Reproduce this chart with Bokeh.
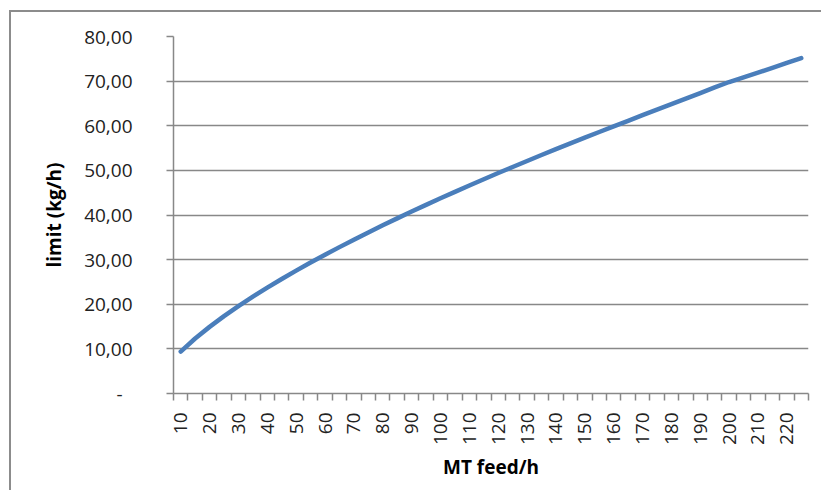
import math
from bokeh.plotting import figure
from bokeh.models import FixedTicker, Range1d
from bokeh.embed import file_html
from bokeh.resources import INLINE

# ---- data ----
feed = [10, 15, 20, 25, 30, 35, 40, 45, 50, 55, 60, 65, 70, 75, 80, 85, 90, 95,
        100, 105, 110, 115, 120, 125, 130, 135, 140, 145, 150, 155, 160, 165,
        170, 175, 180, 185, 190, 195, 200, 205, 210, 215, 220, 225]
limit = [9.40, 12.32, 14.93, 17.33, 19.57, 21.70, 23.72, 25.66, 27.53, 29.34,
         31.10, 32.80, 34.47, 36.09, 37.68, 39.24, 40.77, 42.26, 43.74, 45.18,
         46.61, 48.01, 49.40, 50.76, 52.11, 53.44, 54.76, 56.05, 57.34, 58.60,
         59.86, 61.10, 62.38, 63.62, 64.85, 66.08, 67.32, 68.58, 69.80, 70.85,
         71.90, 72.98, 74.08, 75.16]
x_label_ticks = [10, 20, 30, 40, 50, 60, 70, 80, 90, 100, 110, 120, 130, 140,
                 150, 160, 170, 180, 190, 200, 210, 220]
y_ticks = [0, 10, 20, 30, 40, 50, 60, 70, 80]
y_tick_labels = ["-\u00a0\u00a0", "10,00", "20,00", "30,00", "40,00", "50,00",
                 "60,00", "70,00", "80,00"]
x_title = "MT feed/h"
y_title = "limit (kg/h)"

GRAY = "#888888"
FONT = "Open Sans"

half = (feed[1] - feed[0]) / 2
x_bounds = [f - half for f in feed] + [feed[-1] + half]

p = figure(width=812, height=480, output_backend="svg", toolbar_location=None,
           x_range=Range1d(x_bounds[0], x_bounds[-1]),
           y_range=Range1d(y_ticks[0], y_ticks[-1]),
           min_border_left=162, min_border_right=15,
           min_border_top=24, min_border_bottom=99)
p.styles = {"border-left": "2px solid #8c8c8c", "border-top": "2px solid #8c8c8c",
            "margin-left": "9px", "margin-top": "10px"}
p.outline_line_color = None
p.background_fill_color = "white"
p.border_fill_color = "white"

p.line(feed, limit, line_color="#4A7EBB", line_width=4.5, line_cap="round",
       line_join="round")

# x axis
xa = p.xaxis[0]
xa.ticker = FixedTicker(ticks=x_label_ticks, minor_ticks=x_bounds)
xa.major_tick_out = 0
xa.major_tick_in = 0
xa.minor_tick_out = 7
xa.minor_tick_in = 0
xa.minor_tick_line_color = GRAY
xa.minor_tick_line_width = 1.5
xa.axis_line_color = GRAY
xa.axis_line_width = 1.5
xa.major_label_orientation = math.pi / 2
xa.major_label_standoff = 12
xa.major_label_text_font = FONT
xa.major_label_text_font_size = "19px"
xa.major_label_text_color = "#222222"
xa.axis_label = x_title
xa.axis_label_text_font = FONT
xa.axis_label_text_font_size = "19px"
xa.axis_label_text_font_style = "bold"
xa.axis_label_text_color = "#000000"
xa.axis_label_standoff = 6

# y axis
ya = p.yaxis[0]
ya.ticker = FixedTicker(ticks=y_ticks)
ya.major_label_overrides = {t: s for t, s in zip(y_ticks, y_tick_labels)}
ya.major_tick_out = 7
ya.major_tick_in = 0
ya.minor_tick_out = 0
ya.minor_tick_in = 0
ya.major_tick_line_color = GRAY
ya.major_tick_line_width = 1.5
ya.axis_line_color = GRAY
ya.axis_line_width = 1.5
ya.major_label_standoff = 34
ya.major_label_text_font = FONT
ya.major_label_text_font_size = "19px"
ya.major_label_text_color = "#222222"
ya.axis_label = y_title
ya.axis_label_text_font = FONT
ya.axis_label_text_font_size = "19px"
ya.axis_label_text_font_style = "bold"
ya.axis_label_text_color = "#000000"
ya.axis_label_standoff = 14

p.xgrid.visible = False
p.ygrid.ticker = FixedTicker(ticks=y_ticks)
p.ygrid.grid_line_color = GRAY
p.ygrid.grid_line_width = 1.5

open("out.html", "w").write(file_html(p, INLINE))
